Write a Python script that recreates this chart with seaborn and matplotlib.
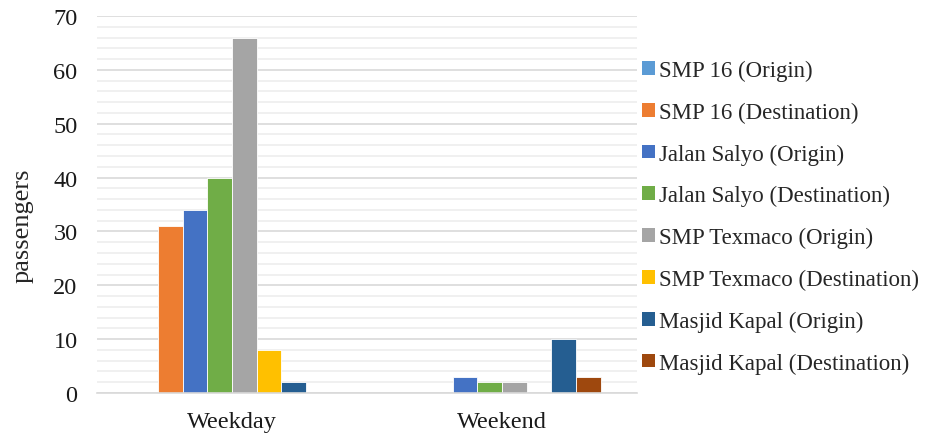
import numpy as np
import pandas as pd
import matplotlib
matplotlib.use("Agg")
import matplotlib.pyplot as plt
from matplotlib.ticker import MultipleLocator
from matplotlib.patches import Patch
import seaborn as sns

periods = ["Weekday", "Weekend"]
series = ["SMP 16 (Origin)", "SMP 16 (Destination)", "Jalan Salyo (Origin)",
          "Jalan Salyo (Destination)", "SMP Texmaco (Origin)", "SMP Texmaco (Destination)",
          "Masjid Kapal (Origin)", "Masjid Kapal (Destination)"]
weekday = [0, 31, 34, 40, 66, 8, 2, 0]
weekend = [0, 0, 3, 2, 2, 0, 10, 3]
colors = ["#5B9BD5", "#ED7D31", "#4472C4", "#70AD47",
          "#A5A5A5", "#FFC000", "#255E91", "#9E480E"]


def main():
    rows = []
    for p, vals in zip(periods, [weekday, weekend]):
        for s, v in zip(series, vals):
            rows.append({"period": p, "series": s, "passengers": v})
    df = pd.DataFrame(rows)

    sns.set_style("white")
    plt.rcParams["font.family"] = ["Liberation Serif", "DejaVu Serif"]

    fig = plt.figure(figsize=(9.36, 4.39), dpi=100)
    ax = fig.add_axes([0.1036, 0.1025, 0.577, 0.8588])

    sns.barplot(data=df, x="period", y="passengers", hue="series", order=periods,
                hue_order=series, palette=colors, width=0.73, edgecolor="white",
                linewidth=0.6, saturation=1, legend=False, ax=ax)

    ax.set_ylim(0, 70)
    ax.set_xlim(-0.5, 1.5)
    ax.yaxis.set_major_locator(MultipleLocator(10))
    ax.yaxis.set_minor_locator(MultipleLocator(2))
    ax.grid(which="major", axis="y", color="#d9d9d9", linewidth=1.2)
    ax.grid(which="minor", axis="y", color="#eeeeee", linewidth=1.2)
    ax.set_axisbelow(True)
    for sp in ["top", "right", "left"]:
        ax.spines[sp].set_visible(False)
    ax.spines["bottom"].set_color("#d9d9d9")
    ax.spines["bottom"].set_linewidth(1.2)
    ax.tick_params(axis="both", which="both", length=0, labelsize=17.5, colors="#1a1a1a")
    ax.tick_params(axis="x", pad=13)
    ax.tick_params(axis="y", pad=14)
    ax.set_xlabel("")
    ax.set_ylabel("passengers", fontsize=19)
    ax.yaxis.set_label_coords(-0.117, 0.446)

    handles = [Patch(facecolor=c, edgecolor="none") for c in colors]
    fig.legend(handles, series, loc="center left", bbox_to_anchor=(0.676, 0.504),
               frameon=False, fontsize=16.5, handlelength=0.55, handleheight=0.55,
               handletextpad=0.2, labelspacing=0.9, borderaxespad=0)

    fig.savefig("out.png", dpi=100)


if __name__ == "__main__":
    main()
